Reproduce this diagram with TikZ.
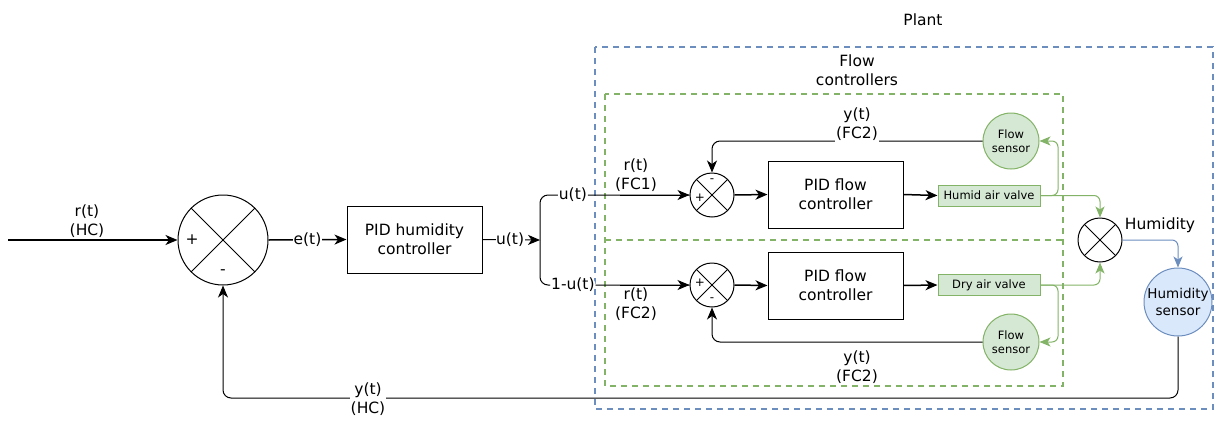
\documentclass[tikz,border=0pt]{standalone}
\usepackage{fontspec}
\setmainfont{DejaVu Sans}
\usetikzlibrary{arrows.meta}
\definecolor{gstroke}{HTML}{82B366}
\definecolor{gfill}{HTML}{D5E8D4}
\definecolor{bstroke}{HTML}{6C8EBF}
\definecolor{bfill}{HTML}{DAE8FC}
\begin{document}
\begin{tikzpicture}[x=1pt,y=-1pt,
  every node/.style={font=\fontsize{15.5}{19}\selectfont},
  sumx/.style={circle,draw,fill=white,inner sep=0pt,line width=1pt,
    path picture={\draw[line width=1pt] (path picture bounding box.south west)--(path picture bounding box.north east)
      (path picture bounding box.north west)--(path picture bounding box.south east);}},
  blockbox/.style={draw,line width=1pt,minimum width=135pt,minimum height=67pt,align=center,inner sep=0pt},
  valve/.style={draw=gstroke,fill=gfill,line width=1pt,minimum width=102pt,minimum height=21pt,inner sep=0pt,font=\fontsize{11.5}{13}\selectfont},
  fsensor/.style={circle,draw=gstroke,fill=gfill,line width=1pt,minimum size=56pt,inner sep=0pt,align=center,font=\fontsize{11.5}{14}\selectfont},
  hsensor/.style={circle,draw=bstroke,fill=bfill,line width=1pt,minimum size=68pt,inner sep=0pt,align=center,font=\fontsize{13.5}{17}\selectfont},
  lbl/.style={fill=white,inner sep=1pt,align=center},
  smallsym/.style={inner sep=0pt,font=\fontsize{12}{12}\selectfont},
  sig/.style={line width=1pt,-{Stealth[length=12pt,width=10pt,inset=3.5pt]}},
  gsig/.style={draw=gstroke,line width=1pt,-{Stealth[length=11pt,width=9pt,inset=3pt]}},
  bsig/.style={draw=bstroke,line width=1pt,-{Stealth[length=11pt,width=9pt,inset=3pt]}},
  plantbox/.style={draw=bstroke,line width=2pt,dash pattern=on 6pt off 5pt},
  fcbox/.style={draw=gstroke,line width=2pt,dash pattern=on 6pt off 5pt}]
\useasboundingbox (0,0) rectangle (1219,421);

% group boxes
\draw[plantbox] (595,47) rectangle (1213,409);
\node (plantlbl) at (923,20) {Plant};
\draw[fcbox] (605,94) rectangle (1063,386);
\draw[fcbox] (605,240) -- (1063,240);
\node[align=center] (fclbl) at (857,70) {Flow\\controllers};

% main loop
\coordinate (in) at (8,240);
\node[sumx,minimum size=90pt] (sum) at (223,240) {};
\node (plus) at (192,240) {+};
\node (minus) at (223,272) {-};
\node[blockbox] (pidh) at (414.5,239.5) {PID humidity\\controller};
\coordinate (split) at (540,240);

% flow controllers
\node[sumx,minimum size=44pt] (fcs1) at (712,195) {};
\node[smallsym] (m1) at (712,181) {-};
\node[smallsym] (p1) at (700,198) {+};
\node[sumx,minimum size=44pt] (fcs2) at (712,285) {};
\node[smallsym] (p2) at (700,283) {+};
\node[smallsym] (m2) at (712,300) {-};
\node[blockbox] (pidf1) at (835.5,194.5) {PID flow\\controller};
\node[blockbox] (pidf2) at (835.5,285.5) {PID flow\\controller};
\node[valve] (hv) at (989,195.5) {Humid air valve};
\node[valve] (dv) at (989,285) {Dry air valve};
\node[fsensor] (fsen1) at (1011,141) {Flow\\sensor};
\node[fsensor] (fsen2) at (1011,342) {Flow\\sensor};
\node[sumx,minimum size=44pt] (mix) at (1100,240) {};
\node[hsensor] (hs) at (1178,302) {Humidity\\sensor};
\node (humlbl) at (1160,225) {Humidity};

\coordinate (g1) at (1058,195.5);
\coordinate (g2) at (1058,285);
\coordinate (fbc) at (1178,398);
\coordinate (u1) at (620,195);
\coordinate (u2) at (620,285);

% connectors
\draw[sig,line width=1.5pt] (in) -- (sum.west);
\draw[sig,line width=1.5pt] (sum.east) -- node[lbl]{e(t)} (pidh.west);
\draw[line width=1pt,rounded corners=8pt] (split) |- node[lbl,pos=0.61]{u(t)} (fcs1.west);
\draw[line width=1pt,rounded corners=8pt] (split) |- node[lbl,pos=0.61]{1-u(t)} (fcs2.west);
\draw[sig] (pidh.east) -- node[lbl,inner sep=0.5pt,pos=0.48]{u(t)} (split);
\draw[sig] (u1) -- (fcs1.west);
\draw[sig] (u2) -- (fcs2.west);
\draw[sig,line width=1.5pt] (fcs1.east) -- (pidf1.west);
\draw[sig,line width=1.5pt] (pidf1.east) -- (hv.west);
\draw[sig,line width=1.5pt] (fcs2.east) -- (pidf2.west);
\draw[sig,line width=1.5pt] (pidf2.east) -- (dv.west);
\draw[sig,rounded corners=8pt] (fsen1.west) -| (fcs1.north);
\draw[sig,rounded corners=8pt] (fsen2.west) -| (fcs2.south);
\draw[gsig,rounded corners=6pt] (hv.east) -- (g1) |- (fsen1.east);
\draw[gsig,rounded corners=6pt] (dv.east) -- (g2) |- (fsen2.east);
\draw[gsig,rounded corners=6pt] (hv.east) -| (mix.north);
\draw[gsig,rounded corners=6pt] (dv.east) -| (mix.south);
\draw[bsig,rounded corners=6pt] (mix.east) -| (hs.north);
\draw[sig,rounded corners=8pt] (hs.south) -- (fbc) -| (sum.south);

% labels
\node[lbl,anchor=south] (rHC) at (87,239) {r(t)\\(HC)};
\node[lbl,anchor=south] (rFC1) at (636,193) {r(t)\\(FC1)};
\node[lbl,anchor=north] (rFC2) at (636,287) {r(t)\\(FC2)};
\node[lbl,anchor=south] (yFC2a) at (857,142) {y(t)\\(FC2)};
\node[lbl] (yFC2b) at (857,367) {y(t)\\(FC2)};
\node[lbl] (yHC) at (368,399) {y(t)\\(HC)};
\end{tikzpicture}
\end{document}
